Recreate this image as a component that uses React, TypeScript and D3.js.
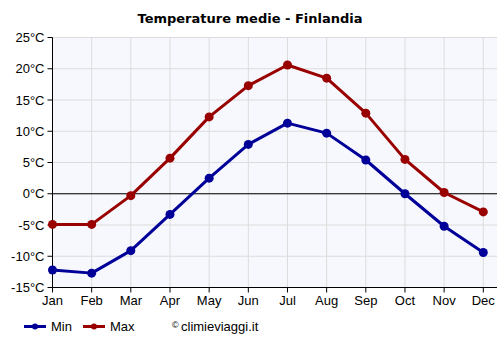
import React from "react";
import * as d3 from "d3";

const months = ["Jan", "Feb", "Mar", "Apr", "May", "Jun", "Jul", "Aug", "Sep", "Oct", "Nov", "Dec"];
const minTemps = [-12.2, -12.7, -9.1, -3.3, 2.5, 7.9, 11.3, 9.7, 5.4, 0.0, -5.2, -9.4];
const maxTemps = [-4.9, -4.9, -0.3, 5.7, 12.3, 17.3, 20.6, 18.5, 12.9, 5.5, 0.2, -2.9];
const yTicks = [-15, -10, -5, 0, 5, 10, 15, 20, 25];

const MIN_COLOR = "#000099";
const MAX_COLOR = "#990000";

const App = () => {
  const width = 500;
  const height = 350;
  const left = 52.5;
  const right = 497;
  const top = 37.5;
  const bottom = 287.5;

  const x = d3.scalePoint<string>().domain(months).range([left, 483.3]);
  const y = d3.scaleLinear().domain([-15, 25]).range([bottom, top]);

  const line = d3
    .line<number>()
    .x((_, i) => x(months[i]) as number)
    .y((d) => y(d));

  const series = [
    { name: "Min", values: minTemps, color: MIN_COLOR },
    { name: "Max", values: maxTemps, color: MAX_COLOR },
  ];

  const font = "'Liberation Sans', Arial, sans-serif";

  return (
    <svg width={width} height={height} style={{ position: "absolute", left: 0, top: 0 }}>
      <rect width={width} height={height} fill="#ffffff" />
      <text
        x={250}
        y={23}
        textAnchor="middle"
        fontFamily="'DejaVu Sans', Verdana, sans-serif"
        fontWeight="bold"
        fontSize={13}
        fill="#000"
      >
        Temperature medie - Finlandia
      </text>

      <rect x={left} y={top} width={right - left} height={bottom - top} fill="#f7f8fd" />

      {/* grid */}
      {yTicks.map((t) => (
        <line key={"gy" + t} x1={left} x2={right} y1={y(t)} y2={y(t)} stroke="#dcdcdc" strokeWidth={1} />
      ))}
      {months.map((m) => (
        <line key={"gx" + m} x1={x(m)} x2={x(m)} y1={top} y2={bottom} stroke="#dcdcdc" strokeWidth={1} />
      ))}

      {/* zero line */}
      <line x1={left} x2={right} y1={y(0)} y2={y(0)} stroke="#000" strokeWidth={1} />

      {/* axes */}
      <line x1={left} x2={left} y1={top} y2={bottom} stroke="#000" strokeWidth={1} />
      <line x1={left} x2={right} y1={bottom} y2={bottom} stroke="#000" strokeWidth={1} />
      {yTicks.map((t) => (
        <g key={"ty" + t}>
          <line x1={left - 5} x2={left} y1={y(t)} y2={y(t)} stroke="#000" />
          <text x={left - 8} y={y(t) + 4.5} textAnchor="end" fontFamily={font} fontSize={13} fill="#000">
            {t}°C
          </text>
        </g>
      ))}
      {months.map((m) => (
        <g key={"tx" + m}>
          <line x1={x(m)} x2={x(m)} y1={bottom} y2={bottom + 5} stroke="#000" />
          <text x={x(m)} y={bottom + 17} textAnchor="middle" fontFamily={font} fontSize={13} fill="#000">
            {m}
          </text>
        </g>
      ))}

      {/* series */}
      {series.map((s) => (
        <g key={s.name}>
          <path d={line(s.values) || ""} fill="none" stroke={s.color} strokeWidth={3} strokeLinejoin="round" />
          {s.values.map((v, i) => (
            <circle key={i} cx={x(months[i])} cy={y(v)} r={4.5} fill={s.color} />
          ))}
        </g>
      ))}

      {/* legend */}
      {series.map((s, i) => {
        const lx = 24 + i * 59;
        return (
          <g key={"lg" + s.name}>
            <line x1={lx} x2={lx + 22} y1={326.5} y2={326.5} stroke={s.color} strokeWidth={3} />
            <circle cx={lx + 11} cy={326.5} r={3} fill={s.color} />
            <text x={lx + 27} y={331} fontFamily={font} fontSize={13} fill="#000">
              {s.name}
            </text>
          </g>
        );
      })}
      <text x={172} y={328} fontFamily={font} fontSize={9} fill="#000">
        ©
      </text>
      <text x={181} y={331} fontFamily={font} fontSize={13} fill="#000">
        climieviaggi.it
      </text>
    </svg>
  );
};

export default App;
